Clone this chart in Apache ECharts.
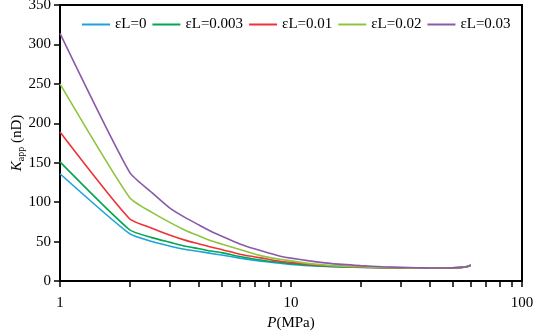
<!DOCTYPE html>
<html>
<head>
<meta charset="utf-8">
<script src="https://cdn.jsdelivr.net/npm/echarts@6/dist/echarts.min.js"></script>
<style>
    html, body { margin: 0; padding: 0; background: #fff; }
    #chart { width: 533px; height: 330px; }
</style>
</head>
<body>
<div id="chart"></div>
<script>
    // 压力 P (MPa)
    var pressure = [1, 2, 2.5, 3, 3.5, 4, 4.5, 5, 6, 7, 8, 9, 10, 12, 15, 20, 25, 30, 35, 40, 45, 50, 55, 58, 60];
    // 各 εL 下的 Kapp (nD)
    var kL0 = [136, 60, 50, 44, 40, 37.5, 35, 33, 29, 26, 24, 22.5, 21, 19.5, 18.2, 17.3, 16.8, 16.5, 16.3, 16.2, 16.2, 16.5, 17.2, 18.2, 19.8];
    var kL0003 = [151, 65, 55, 49, 44, 41, 38, 36, 31, 27.5, 25, 23.5, 22, 20, 18.5, 17.4, 16.9, 16.6, 16.4, 16.3, 16.3, 16.6, 17.3, 18.3, 19.9];
    var kL001 = [189, 79, 67, 58, 51.5, 47, 43, 40, 34, 30.5, 27.5, 25, 23.5, 21, 19, 17.6, 17, 16.6, 16.4, 16.3, 16.3, 16.6, 17.3, 18.3, 20];
    var kL002 = [250, 106, 87, 74, 64, 57, 51, 47, 40, 34, 30, 27.5, 25.5, 22, 19.5, 18, 17.2, 16.8, 16.5, 16.4, 16.4, 16.7, 17.4, 18.4, 20];
    var kL003 = [314, 138, 112, 92, 80, 71, 63, 57, 47, 40.5, 35.5, 31.5, 29, 25.5, 22, 19.5, 18, 17.3, 16.8, 16.5, 16.4, 16.7, 17.4, 18.5, 20.2];
    var legendNames = ['εL=0', 'εL=0.003', 'εL=0.01', 'εL=0.02', 'εL=0.03'];
    var colors = ['#1fa3d6', '#00a651', '#ec3338', '#8cc63f', '#8a5aa8'];
    var xTicks = [1, 2, 3, 4, 5, 6, 7, 8, 9, 10, 20, 30, 40, 50, 60, 70, 80, 90, 100];
    var xLabels = [1, 10, 100];

    var font = "Liberation Serif";
    var allSeries = [kL0, kL0003, kL001, kL002, kL003];

    function pairs(values) {
        return pressure.map(function(p, i) { return [p, values[i]]; });
    }

    var myChart = echarts.init(document.getElementById('chart'));

    var option = {
        animation: false,
        textStyle: { fontFamily: font, color: '#000' },
        grid: {
            left: 60, right: 11, top: 5, bottom: 49,
            containLabel: false,
            outerBoundsMode: 'none',
            show: true, borderColor: '#000', borderWidth: 2
        },
        legend: {
            data: legendNames,
            left: 77, top: 12,
            icon: 'rect',
            itemWidth: 28, itemHeight: 2, itemGap: 6,
            textStyle: { fontFamily: font, fontSize: 15, color: '#000' }
        },
        xAxis: {
            type: 'log',
            logBase: 10,
            min: 1, max: 100,
            name: '{i|P}(MPa)',
            nameLocation: 'middle',
            nameGap: 35,
            nameTextStyle: {
                fontFamily: font, fontSize: 15, color: '#000',
                rich: { i: { fontFamily: font, fontSize: 15, fontStyle: 'italic', color: '#000' } }
            },
            axisLine: { lineStyle: { color: '#000', width: 2 } },
            axisTick: { show: true, inside: false, length: 6, lineStyle: { color: '#000', width: 1.5 }, customValues: xTicks },
            axisLabel: { fontFamily: font, fontSize: 15, color: '#000', margin: 15, customValues: xLabels },
            splitLine: { show: false }
        },
        yAxis: {
            type: 'value',
            min: 0, max: 350, interval: 50,
            name: '{i|K}{s|app} (nD)',
            nameLocation: 'middle',
            nameGap: 34,
            nameMoveOverlap: false,
            nameTextStyle: {
                fontFamily: font, fontSize: 15, color: '#000',
                rich: {
                    i: { fontFamily: font, fontSize: 15, fontStyle: 'italic', color: '#000' },
                    s: { fontFamily: font, fontSize: 10, color: '#000', verticalAlign: 'bottom', padding: [8, 0, 0, 0] }
                }
            },
            axisLine: { show: true, lineStyle: { color: '#000', width: 2 } },
            axisTick: { show: true, inside: false, length: 6, lineStyle: { color: '#000', width: 1.5 } },
            axisLabel: { fontFamily: font, fontSize: 15, color: '#000', margin: 9 },
            splitLine: { show: false }
        },
        series: allSeries.map(function(values, i) {
            return {
                name: legendNames[i],
                type: 'line',
                data: pairs(values),
                symbol: 'none',
                smooth: 0.2,
                lineStyle: { color: colors[i], width: 1.6 },
                itemStyle: { color: colors[i] }
            };
        })
    };

    myChart.setOption(option);
</script>
</body>
</html>
